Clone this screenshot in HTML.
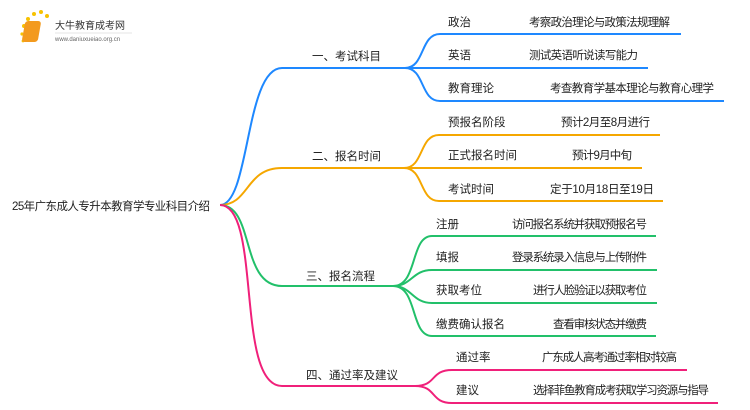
<!DOCTYPE html>
<html><head><meta charset="utf-8"><style>
html,body{margin:0;padding:0;background:#fff;width:750px;height:410px;overflow:hidden}
svg text{font-family:"Liberation Sans","Noto Sans CJK SC",sans-serif;font-size:11.5px;fill:#222}
</style></head><body>
<svg width="750" height="410" viewBox="0 0 750 410" xmlns="http://www.w3.org/2000/svg">
<!-- logo -->
<g>
<circle cx="24" cy="26" r="2" fill="#f7c200"/><circle cx="28" cy="19" r="2" fill="#f7c200"/><circle cx="34" cy="14" r="2" fill="#f7c200"/><circle cx="41" cy="12" r="2" fill="#f7c200"/><circle cx="47" cy="16" r="2" fill="#f7c200"/><circle cx="22" cy="34" r="1.6" fill="#f7c200"/><circle cx="23" cy="41" r="1.4" fill="#f7c200"/>
<rect x="29" y="21" width="16" height="21" rx="3" fill="#f39a1e" transform="skewX(-10)"/>
<text x="55" y="29" style="font-size:10px;fill:#333">大牛教育成考网</text>
<text x="55" y="41" style="font-size:6px;fill:#666">www.daniuxueiao.org.cn</text>
<line x1="55" y1="33" x2="132" y2="33" stroke="#ddd" stroke-width="0.8"/>
</g>
<g fill="none" stroke-width="2">
<!-- blue -->
<g stroke="#1e88ff">
<path d="M220 205 C250 205 245 68 282 68 L405 68"/>
<path d="M405 68 C425 68 420 34 440 34 L681 34"/>
<path d="M405 68 L648 68"/>
<path d="M405 68 C425 68 420 101 440 101 L724 101"/>
</g>
<g stroke="#f5a700">
<path d="M220 205 C250 205 245 168 282 168 L404 168"/>
<path d="M404 168 C424 168 419 135 439 135 L660 135"/>
<path d="M404 168 L642 168"/>
<path d="M404 168 C424 168 419 201 439 201 L663 201"/>
</g>
<g stroke="#22c06a">
<path d="M220 205 C255 205 240 286 282 286 L393 286"/>
<path d="M393 286 C418 286 410 236 432 236 L656 236"/>
<path d="M393 286 C412 286 412 270 432 270 L657 270"/>
<path d="M393 286 C412 286 412 303 432 303 L657 303"/>
<path d="M393 286 C418 286 410 336 432 336 L656 336"/>
</g>
<g stroke="#f0207a">
<path d="M220 205 C262 205 235 386 282 386 L415 386"/>
<path d="M415 386 C437 386 430 370 452 370 L687 370"/>
<path d="M415 386 C437 386 430 403 452 403 L718 403"/>
</g>
</g>
<text x="12" y="210" textLength="198">25年广东成人专升本教育学专业科目介绍</text>
<text x="312" y="60">一、考试科目</text>
<text x="312" y="160">二、报名时间</text>
<text x="306" y="280">三、报名流程</text>
<text x="306" y="379">四、通过率及建议</text>
<text x="448" y="26">政治</text><text x="529" y="26" textLength="141">考察政治理论与政策法规理解</text>
<text x="448" y="59">英语</text><text x="529" y="59" textLength="109">测试英语听说读写能力</text>
<text x="448" y="92">教育理论</text><text x="550" y="92" textLength="164">考查教育学基本理论与教育心理学</text>
<text x="448" y="126">预报名阶段</text><text x="561" y="126" textLength="89">预计2月至8月进行</text>
<text x="448" y="159">正式报名时间</text><text x="572" y="159" textLength="60">预计9月中旬</text>
<text x="448" y="193">考试时间</text><text x="550" y="193" textLength="104">定于10月18日至19日</text>
<text x="436" y="228">注册</text><text x="512" y="228" textLength="135">访问报名系统并获取预报名号</text>
<text x="436" y="261">填报</text><text x="512" y="261" textLength="135">登录系统录入信息与上传附件</text>
<text x="436" y="294">获取考位</text><text x="533" y="294" textLength="114">进行人脸验证以获取考位</text>
<text x="436" y="328">缴费确认报名</text><text x="553" y="328" textLength="94">查看审核状态并缴费</text>
<text x="456" y="361">通过率</text><text x="542" y="361" textLength="135">广东成人高考通过率相对较高</text>
<text x="456" y="394">建议</text><text x="533" y="394" textLength="176">选择菲鱼教育成考获取学习资源与指导</text>
</svg>
</body></html>
